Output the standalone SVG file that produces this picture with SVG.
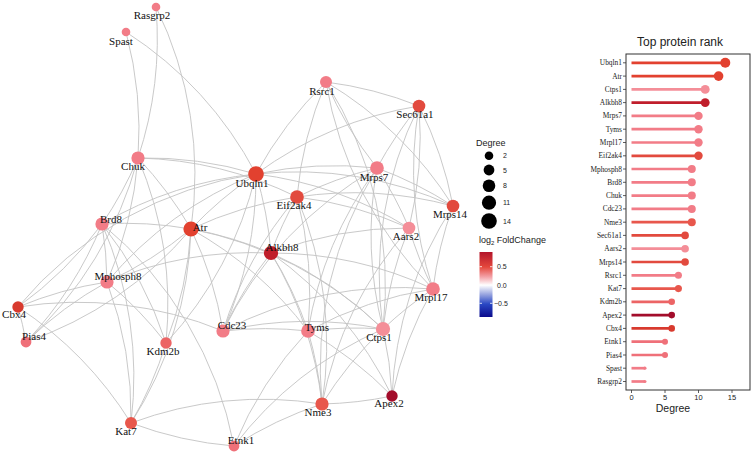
<svg xmlns="http://www.w3.org/2000/svg" width="753" height="455" viewBox="0 0 753 455">
<defs>
<style>
.e{fill:none;stroke:#c3c3c3;stroke-width:0.9}
.l{font-family:"Liberation Serif","Times New Roman",serif;font-size:11px;fill:#111;text-anchor:middle}
.pk{fill:#f27c87}.lp{fill:#f48e98}.r1{fill:#e2412f}.r2{fill:#e24a3e}.r3{fill:#e8574c}.r4{fill:#ec6465}.r5{fill:#ef7079}.dr{fill:#c01e2b}.dd{fill:#a30d2b}.cb{fill:#d83a2e}
.bpk{stroke:#f27c87}.blp{stroke:#f48e98}.br1{stroke:#e2412f}.br2{stroke:#e24a3e}.br3{stroke:#e8574c}.br4{stroke:#ec6465}.br5{stroke:#ef7079}.bdr{stroke:#c01e2b}.bdd{stroke:#a30d2b}.bcb{stroke:#d83a2e}
.bar line{stroke-width:2.7}
.yl{font-family:"Liberation Serif","Times New Roman",serif;font-size:7.4px;fill:#222;text-anchor:end}
.sans{font-family:"Liberation Sans",Arial,sans-serif;fill:#222}
</style>
<linearGradient id="fc" x1="0" y1="0" x2="0" y2="1">
<stop offset="0" stop-color="#b3152b"/>
<stop offset="0.23" stop-color="#e4473c"/>
<stop offset="0.38" stop-color="#f3a0a6"/>
<stop offset="0.51" stop-color="#ffffff"/>
<stop offset="0.65" stop-color="#9aa6e0"/>
<stop offset="0.8" stop-color="#2a48c4"/>
<stop offset="1" stop-color="#0b0b8c"/>
</linearGradient>
</defs>
<rect width="753" height="455" fill="#fff"/>
<g id="edges">
<path class="e" d="M156 7A380 380 0 0 1 138 158"/>
<path class="e" d="M156 7A380 380 0 0 1 191 229"/>
<path class="e" d="M126 32A380 380 0 0 1 138 158"/>
<path class="e" d="M126 32A380 380 0 0 1 256 174"/>
<path class="e" d="M138 158A380 380 0 0 1 256 174"/>
<path class="e" d="M138 158A380 380 0 0 1 297 197"/>
<path class="e" d="M138 158A380 380 0 0 1 191 229"/>
<path class="e" d="M138 158A380 380 0 0 1 102 224"/>
<path class="e" d="M138 158A380 380 0 0 1 107 282"/>
<path class="e" d="M138 158A380 380 0 0 1 166 343"/>
<path class="e" d="M138 158A380 380 0 0 1 26 342"/>
<path class="e" d="M102 224A380 380 0 0 1 256 174"/>
<path class="e" d="M18 307A380 380 0 0 1 256 174"/>
<path class="e" d="M191 229A380 380 0 0 1 256 174"/>
<path class="e" d="M107 282A380 380 0 0 1 256 174"/>
<path class="e" d="M256 174A380 380 0 0 1 326 82"/>
<path class="e" d="M256 174A380 380 0 0 1 419 106"/>
<path class="e" d="M256 174A380 380 0 0 1 377 168"/>
<path class="e" d="M256 174A380 380 0 0 1 453 206"/>
<path class="e" d="M256 174A380 380 0 0 1 409 228"/>
<path class="e" d="M256 174A380 380 0 0 1 271 253"/>
<path class="e" d="M256 174A380 380 0 0 1 223 331"/>
<path class="e" d="M256 174A380 380 0 0 1 166 343"/>
<path class="e" d="M102 224A380 380 0 0 1 191 229"/>
<path class="e" d="M191 229A380 380 0 0 1 107 282"/>
<path class="e" d="M191 229A380 380 0 0 1 223 331"/>
<path class="e" d="M191 229A380 380 0 0 1 166 343"/>
<path class="e" d="M191 229A380 380 0 0 1 131 423"/>
<path class="e" d="M191 229A380 380 0 0 1 271 253"/>
<path class="e" d="M191 229A380 380 0 0 1 297 197"/>
<path class="e" d="M191 229A380 380 0 0 1 308 331"/>
<path class="e" d="M191 229A380 380 0 0 1 383 329"/>
<path class="e" d="M191 229A380 380 0 0 1 26 342"/>
<path class="e" d="M102 224A380 380 0 0 1 107 282"/>
<path class="e" d="M102 224A380 380 0 0 1 18 307"/>
<path class="e" d="M102 224A380 380 0 0 1 26 342"/>
<path class="e" d="M102 224A380 380 0 0 1 131 423"/>
<path class="e" d="M102 224A380 380 0 0 1 166 343"/>
<path class="e" d="M102 224A380 380 0 0 1 234 446"/>
<path class="e" d="M107 282A380 380 0 0 1 271 253"/>
<path class="e" d="M18 307A380 380 0 0 1 107 282"/>
<path class="e" d="M26 342A380 380 0 0 1 107 282"/>
<path class="e" d="M107 282A380 380 0 0 1 131 423"/>
<path class="e" d="M107 282A380 380 0 0 1 166 343"/>
<path class="e" d="M166 343A380 380 0 0 1 131 423"/>
<path class="e" d="M18 307A380 380 0 0 1 26 342"/>
<path class="e" d="M18 307A380 380 0 0 1 223 331"/>
<path class="e" d="M18 307A380 380 0 0 1 131 423"/>
<path class="e" d="M131 423A380 380 0 0 1 322 404"/>
<path class="e" d="M234 446A380 380 0 0 1 131 423"/>
<path class="e" d="M234 446A380 380 0 0 1 308 331"/>
<path class="e" d="M234 446A380 380 0 0 1 322 404"/>
<path class="e" d="M234 446A380 380 0 0 1 383 329"/>
<path class="e" d="M223 331A380 380 0 0 1 383 329"/>
<path class="e" d="M223 331A380 380 0 0 1 271 253"/>
<path class="e" d="M223 331A380 380 0 0 1 308 331"/>
<path class="e" d="M223 331A380 380 0 0 1 433 289"/>
<path class="e" d="M223 331A380 380 0 0 1 297 197"/>
<path class="e" d="M223 331A380 380 0 0 1 377 168"/>
<path class="e" d="M271 253A380 380 0 0 1 297 197"/>
<path class="e" d="M271 253A380 380 0 0 1 308 331"/>
<path class="e" d="M271 253A380 380 0 0 1 322 404"/>
<path class="e" d="M271 253A380 380 0 0 1 383 329"/>
<path class="e" d="M271 253A380 380 0 0 1 392 396"/>
<path class="e" d="M271 253A380 380 0 0 1 433 289"/>
<path class="e" d="M271 253A380 380 0 0 1 409 228"/>
<path class="e" d="M297 197A380 380 0 0 1 377 168"/>
<path class="e" d="M297 197A380 380 0 0 1 308 331"/>
<path class="e" d="M297 197A380 380 0 0 1 326 82"/>
<path class="e" d="M297 197A380 380 0 0 1 409 228"/>
<path class="e" d="M297 197A380 380 0 0 1 453 206"/>
<path class="e" d="M297 197A380 380 0 0 1 322 404"/>
<path class="e" d="M308 331A380 380 0 0 1 383 329"/>
<path class="e" d="M308 331A380 380 0 0 1 322 404"/>
<path class="e" d="M308 331A380 380 0 0 1 392 396"/>
<path class="e" d="M308 331A380 380 0 0 1 377 168"/>
<path class="e" d="M308 331A380 380 0 0 1 433 289"/>
<path class="e" d="M322 404A380 380 0 0 1 383 329"/>
<path class="e" d="M383 329A380 380 0 0 1 392 396"/>
<path class="e" d="M383 329A380 380 0 0 1 433 289"/>
<path class="e" d="M383 329A380 380 0 0 1 409 228"/>
<path class="e" d="M383 329A380 380 0 0 1 377 168"/>
<path class="e" d="M383 329A380 380 0 0 1 419 106"/>
<path class="e" d="M392 396A380 380 0 0 1 322 404"/>
<path class="e" d="M322 404A380 380 0 0 1 377 168"/>
<path class="e" d="M322 404A380 380 0 0 1 409 228"/>
<path class="e" d="M392 396A380 380 0 0 1 433 289"/>
<path class="e" d="M392 396A380 380 0 0 1 453 206"/>
<path class="e" d="M377 168A380 380 0 0 1 326 82"/>
<path class="e" d="M377 168A380 380 0 0 1 419 106"/>
<path class="e" d="M377 168A380 380 0 0 1 453 206"/>
<path class="e" d="M377 168A380 380 0 0 1 409 228"/>
<path class="e" d="M433 289A380 380 0 0 1 409 228"/>
<path class="e" d="M433 289A380 380 0 0 1 453 206"/>
<path class="e" d="M433 289A380 380 0 0 1 419 106"/>
<path class="e" d="M433 289A380 380 0 0 1 326 82"/>
<path class="e" d="M326 82A380 380 0 0 1 419 106"/>
<path class="e" d="M419 106A380 380 0 0 1 453 206"/>
<path class="e" d="M419 106A380 380 0 0 1 409 228"/>
<path class="e" d="M326 82A380 380 0 0 1 453 206"/>
<path class="e" d="M326 82A380 380 0 0 1 383 329"/>
</g>
<g id="n-Rasgrp2"><circle class="pk" cx="156" cy="7" r="4.3"/><text class="l" x="152" y="19">Rasgrp2</text></g>
<g id="n-Spast"><circle class="pk" cx="126" cy="32" r="4.3"/><text class="l" x="121" y="45">Spast</text></g>
<g id="n-Chuk"><circle class="pk" cx="138" cy="158" r="6.6"/><text class="l" x="133" y="170">Chuk</text></g>
<g id="n-Ubqln1"><circle class="r1" cx="256" cy="174" r="7.8"/><text class="l" x="252" y="187">Ubqln1</text></g>
<g id="n-Rsrc1"><circle class="pk" cx="326" cy="82" r="6.0"/><text class="l" x="322" y="95">Rsrc1</text></g>
<g id="n-Sec61a1"><circle class="r2" cx="419" cy="106" r="6.3"/><text class="l" x="415" y="118">Sec61a1</text></g>
<g id="n-Mrps7"><circle class="pk" cx="377" cy="168" r="6.85"/><text class="l" x="374" y="181">Mrps7</text></g>
<g id="n-Eif2ak4"><circle class="r2" cx="297" cy="197" r="6.85"/><text class="l" x="294" y="209">Eif2ak4</text></g>
<g id="n-Mrps14"><circle class="r2" cx="453" cy="206" r="6.3"/><text class="l" x="450" y="218">Mrps14</text></g>
<g id="n-Aars2"><circle class="lp" cx="409" cy="228" r="6.3"/><text class="l" x="406" y="240">Aars2</text></g>
<g id="n-Alkbh8"><circle class="dr" cx="271" cy="253" r="7.1"/><text class="l" x="282" y="251">Alkbh8</text></g>
<g id="n-Mrpl17"><circle class="pk" cx="433" cy="289" r="6.85"/><text class="l" x="431" y="301">Mrpl17</text></g>
<g id="n-Tyms"><circle class="pk" cx="308" cy="331" r="6.85"/><text class="l" x="317" y="331">Tyms</text></g>
<g id="n-Ctps1"><circle class="lp" cx="383" cy="329" r="7.1"/><text class="l" x="379" y="341">Ctps1</text></g>
<g id="n-Apex2"><circle class="dd" cx="392" cy="396" r="5.7"/><text class="l" x="389" y="407">Apex2</text></g>
<g id="n-Nme3"><circle class="r3" cx="322" cy="404" r="6.6"/><text class="l" x="318" y="416">Nme3</text></g>
<g id="n-Etnk1"><circle class="r5" cx="234" cy="446" r="5.4"/><text class="l" x="241" y="444">Etnk1</text></g>
<g id="n-Atr"><circle class="r1" cx="191" cy="229" r="7.6"/><text class="l" x="200" y="231">Atr</text></g>
<g id="n-Brd8"><circle class="pk" cx="102" cy="224" r="6.6"/><text class="l" x="111" y="223">Brd8</text></g>
<g id="n-Mphosph8"><circle class="pk" cx="107" cy="282" r="6.6"/><text class="l" x="118" y="280">Mphosph8</text></g>
<g id="n-Cbx4"><circle class="cb" cx="18" cy="307" r="5.7"/><text class="l" x="14" y="318">Cbx4</text></g>
<g id="n-Pias4"><circle class="r5" cx="26" cy="342" r="5.4"/><text class="l" x="34" y="340">Pias4</text></g>
<g id="n-Cdc23"><circle class="pk" cx="223" cy="331" r="6.6"/><text class="l" x="232" y="329">Cdc23</text></g>
<g id="n-Kdm2b"><circle class="r4" cx="166" cy="343" r="5.7"/><text class="l" x="163" y="355">Kdm2b</text></g>
<g id="n-Kat7"><circle class="r3" cx="131" cy="423" r="6.0"/><text class="l" x="126" y="435">Kat7</text></g>
<g id="legend">
<text class="sans" x="476" y="146" font-size="9">Degree</text>
<circle cx="489" cy="155.7" r="4.3" fill="#000"/><text class="sans" x="503" y="158.3" font-size="7">2</text>
<circle cx="489" cy="170" r="5.4" fill="#000"/><text class="sans" x="503" y="172.6" font-size="7">5</text>
<circle cx="489" cy="185.7" r="6.3" fill="#000"/><text class="sans" x="503" y="188.3" font-size="7">8</text>
<circle cx="489" cy="202.7" r="7.1" fill="#000"/><text class="sans" x="503" y="205.3" font-size="7">11</text>
<circle cx="489" cy="221" r="7.8" fill="#000"/><text class="sans" x="503" y="223.6" font-size="7">14</text>
<text class="sans" x="479" y="243" font-size="9">log<tspan font-size="6" dy="2">2</tspan><tspan dy="-2"> FoldChange</tspan></text>
<rect x="479.5" y="252" width="13" height="65" fill="url(#fc)"/>
<g stroke="#fff" stroke-width="0.8"><line x1="479.5" y1="266.7" x2="482" y2="266.7"/><line x1="490" y1="266.7" x2="492.5" y2="266.7"/><line x1="479.5" y1="285" x2="482" y2="285"/><line x1="490" y1="285" x2="492.5" y2="285"/><line x1="479.5" y1="303.3" x2="482" y2="303.3"/><line x1="490" y1="303.3" x2="492.5" y2="303.3"/></g>
<text class="sans" x="497" y="269.3" font-size="7">0.5</text>
<text class="sans" x="497" y="287.6" font-size="7">0.0</text>
<text class="sans" x="494" y="305.9" font-size="7">−0.5</text>
</g>
<g id="chart">
<text class="sans" x="680" y="46" font-size="12" text-anchor="middle">Top protein rank</text>
<g class="bar">
<line class="br1" x1="631.5" y1="62.8" x2="725.3" y2="62.8"/><circle class="r1" cx="725.3" cy="62.8" r="5"/>
<line class="br1" x1="631.5" y1="76.1" x2="718.6" y2="76.1"/><circle class="r1" cx="718.6" cy="76.1" r="4.8"/>
<line class="blp" x1="631.5" y1="89.4" x2="705.2" y2="89.4"/><circle class="lp" cx="705.2" cy="89.4" r="4.45"/>
<line class="bdr" x1="631.5" y1="102.6" x2="705.2" y2="102.6"/><circle class="dr" cx="705.2" cy="102.6" r="4.45"/>
<line class="bpk" x1="631.5" y1="115.9" x2="698.5" y2="115.9"/><circle class="pk" cx="698.5" cy="115.9" r="4.2"/>
<line class="bpk" x1="631.5" y1="129.2" x2="698.5" y2="129.2"/><circle class="pk" cx="698.5" cy="129.2" r="4.2"/>
<line class="bpk" x1="631.5" y1="142.5" x2="698.5" y2="142.5"/><circle class="pk" cx="698.5" cy="142.5" r="4.2"/>
<line class="br2" x1="631.5" y1="155.8" x2="698.5" y2="155.8"/><circle class="r2" cx="698.5" cy="155.8" r="4.2"/>
<line class="bpk" x1="631.5" y1="169" x2="691.8" y2="169"/><circle class="pk" cx="691.8" cy="169" r="4"/>
<line class="bpk" x1="631.5" y1="182.3" x2="691.8" y2="182.3"/><circle class="pk" cx="691.8" cy="182.3" r="4"/>
<line class="bpk" x1="631.5" y1="195.6" x2="691.8" y2="195.6"/><circle class="pk" cx="691.8" cy="195.6" r="4"/>
<line class="bpk" x1="631.5" y1="208.9" x2="691.8" y2="208.9"/><circle class="pk" cx="691.8" cy="208.9" r="4"/>
<line class="br3" x1="631.5" y1="222.2" x2="691.8" y2="222.2"/><circle class="r3" cx="691.8" cy="222.2" r="4"/>
<line class="br2" x1="631.5" y1="235.4" x2="685.1" y2="235.4"/><circle class="r2" cx="685.1" cy="235.4" r="3.8"/>
<line class="blp" x1="631.5" y1="248.7" x2="685.1" y2="248.7"/><circle class="lp" cx="685.1" cy="248.7" r="3.8"/>
<line class="br2" x1="631.5" y1="262" x2="685.1" y2="262"/><circle class="r2" cx="685.1" cy="262" r="3.8"/>
<line class="bpk" x1="631.5" y1="275.3" x2="678.4" y2="275.3"/><circle class="pk" cx="678.4" cy="275.3" r="3.55"/>
<line class="br3" x1="631.5" y1="288.6" x2="678.4" y2="288.6"/><circle class="r3" cx="678.4" cy="288.6" r="3.55"/>
<line class="br4" x1="631.5" y1="301.8" x2="671.7" y2="301.8"/><circle class="r4" cx="671.7" cy="301.8" r="3.3"/>
<line class="bdd" x1="631.5" y1="315.1" x2="671.7" y2="315.1"/><circle class="dd" cx="671.7" cy="315.1" r="3.3"/>
<line class="bcb" x1="631.5" y1="328.4" x2="671.7" y2="328.4"/><circle class="cb" cx="671.7" cy="328.4" r="3.3"/>
<line class="br5" x1="631.5" y1="341.7" x2="665" y2="341.7"/><circle class="r5" cx="665" cy="341.7" r="3"/>
<line class="br5" x1="631.5" y1="355" x2="665" y2="355"/><circle class="r5" cx="665" cy="355" r="3"/>
<line class="bpk" x1="631.5" y1="368.2" x2="644.9" y2="368.2"/><circle class="pk" cx="644.9" cy="368.2" r="1.6"/>
<line class="bpk" x1="631.5" y1="381.5" x2="644.9" y2="381.5"/><circle class="pk" cx="644.9" cy="381.5" r="1.6"/>
</g>
<rect x="626" y="54" width="124" height="336" fill="none" stroke="#333" stroke-width="1"/>
<g stroke="#333" stroke-width="0.8">
<line x1="623" y1="62.8" x2="626" y2="62.8"/><line x1="623" y1="76.1" x2="626" y2="76.1"/><line x1="623" y1="89.4" x2="626" y2="89.4"/><line x1="623" y1="102.6" x2="626" y2="102.6"/><line x1="623" y1="115.9" x2="626" y2="115.9"/><line x1="623" y1="129.2" x2="626" y2="129.2"/><line x1="623" y1="142.5" x2="626" y2="142.5"/><line x1="623" y1="155.8" x2="626" y2="155.8"/><line x1="623" y1="169" x2="626" y2="169"/><line x1="623" y1="182.3" x2="626" y2="182.3"/><line x1="623" y1="195.6" x2="626" y2="195.6"/><line x1="623" y1="208.9" x2="626" y2="208.9"/><line x1="623" y1="222.2" x2="626" y2="222.2"/><line x1="623" y1="235.4" x2="626" y2="235.4"/><line x1="623" y1="248.7" x2="626" y2="248.7"/><line x1="623" y1="262" x2="626" y2="262"/><line x1="623" y1="275.3" x2="626" y2="275.3"/><line x1="623" y1="288.6" x2="626" y2="288.6"/><line x1="623" y1="301.8" x2="626" y2="301.8"/><line x1="623" y1="315.1" x2="626" y2="315.1"/><line x1="623" y1="328.4" x2="626" y2="328.4"/><line x1="623" y1="341.7" x2="626" y2="341.7"/><line x1="623" y1="355" x2="626" y2="355"/><line x1="623" y1="368.2" x2="626" y2="368.2"/><line x1="623" y1="381.5" x2="626" y2="381.5"/>
<line x1="631.5" y1="390" x2="631.5" y2="393"/><line x1="665" y1="390" x2="665" y2="393"/><line x1="698.5" y1="390" x2="698.5" y2="393"/><line x1="732" y1="390" x2="732" y2="393"/>
</g>
<text class="yl" x="622" y="65.3">Ubqln1</text>
<text class="yl" x="622" y="78.6">Atr</text>
<text class="yl" x="622" y="91.9">Ctps1</text>
<text class="yl" x="622" y="105.1">Alkbh8</text>
<text class="yl" x="622" y="118.4">Mrps7</text>
<text class="yl" x="622" y="131.7">Tyms</text>
<text class="yl" x="622" y="145">Mrpl17</text>
<text class="yl" x="622" y="158.3">Eif2ak4</text>
<text class="yl" x="622" y="171.5">Mphosph8</text>
<text class="yl" x="622" y="184.8">Brd8</text>
<text class="yl" x="622" y="198.1">Chuk</text>
<text class="yl" x="622" y="211.4">Cdc23</text>
<text class="yl" x="622" y="224.7">Nme3</text>
<text class="yl" x="622" y="237.9">Sec61a1</text>
<text class="yl" x="622" y="251.2">Aars2</text>
<text class="yl" x="622" y="264.5">Mrps14</text>
<text class="yl" x="622" y="277.8">Rsrc1</text>
<text class="yl" x="622" y="291.1">Kat7</text>
<text class="yl" x="622" y="304.3">Kdm2b</text>
<text class="yl" x="622" y="317.6">Apex2</text>
<text class="yl" x="622" y="330.9">Cbx4</text>
<text class="yl" x="622" y="344.2">Etnk1</text>
<text class="yl" x="622" y="357.5">Pias4</text>
<text class="yl" x="622" y="370.7">Spast</text>
<text class="yl" x="622" y="384">Rasgrp2</text>
<g class="sans" font-size="7.5" text-anchor="middle">
<text x="631.5" y="400">0</text><text x="665" y="400">5</text><text x="698.5" y="400">10</text><text x="732" y="400">15</text>
</g>
<text class="sans" x="673" y="412" font-size="10.5" text-anchor="middle">Degree</text>
</g>
</svg>
